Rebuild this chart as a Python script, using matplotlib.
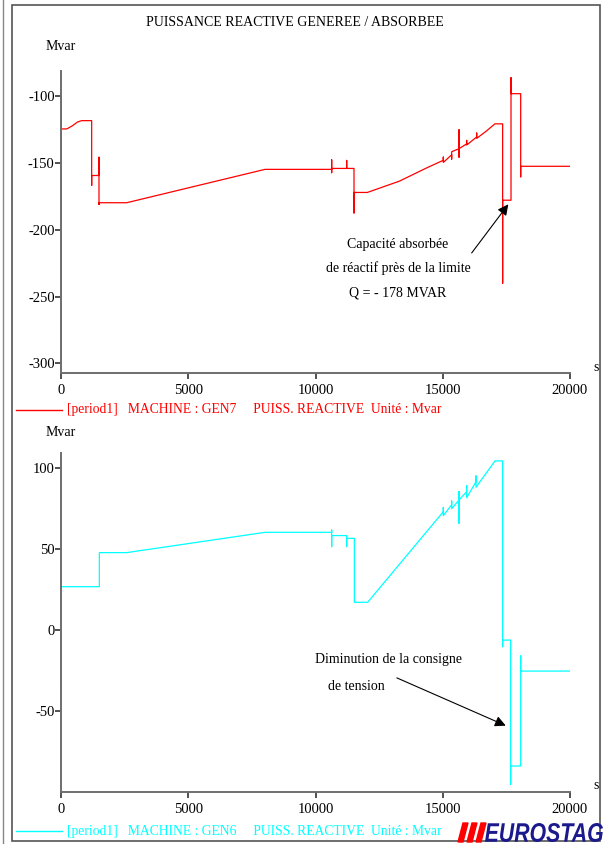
import matplotlib
matplotlib.use('Agg')
import matplotlib.pyplot as plt
from matplotlib.patches import Rectangle, Polygon, PathPatch
from matplotlib.lines import Line2D
from matplotlib.textpath import TextPath
from matplotlib.font_manager import FontProperties
from matplotlib.transforms import Affine2D

plt.rcParams['font.family'] = ['Liberation Serif', 'DejaVu Serif']

# GEN7 - puissance reactive (Mvar), temps en s
t_gen7 = [0, 0, 0, 230, 450, 650, 812, 1205, 1205, 1205, 1205, 1493, 1493, 1493, 1493,
          2580, 8016, 10635, 10635, 10635, 10635, 11225, 11225, 11225, 11513, 11513, 11513,
          12036, 13300, 14368, 15022, 15022, 15022, 15350, 15350, 15350, 15639, 15639, 15639,
          15639, 15940, 15940, 15940, 16333, 16333, 16333, 16700, 17050, 17353, 17353, 17353,
          17643, 17682, 17682, 17682, 18062, 18062, 18062, 18062, 20000]
q_gen7 = [-305, -100, -124.4, -124.4, -122, -119.2, -118.2, -118.2, -166.7, -159.3, -159.3, -159.3,
          -145.6, -181, -179.7, -179.7, -154.7, -154.7, -147.5, -157.2, -154.0, -154.0, -148, -154.0,
          -154.0, -187.4, -172.0, -172.0, -163.5, -153.6, -147.9, -145.5, -149.5, -143.8, -147,
          -141.5, -139.2, -125, -145.6, -139.2, -135.6, -133, -136.5, -130.4, -127.5, -131.5, -126.2,
          -120.6, -120.6, -240, -177.8, -177.8, -177.8, -86, -98.0, -98.0, -152.4, -160.3, -152.4,
          -152.4]

# GEN6 - puissance reactive (Mvar)
t_gen6 = [0, 0, 1507, 1507, 2580, 8016, 10635, 10635, 10635, 10635, 11225, 11225, 11225,
          11526, 11526, 11526, 12050, 15022, 15022, 15022, 15350, 15350, 15350, 15639, 15639,
          15639, 15639, 15940, 15940, 15940, 16307, 16307, 16307, 17053, 17353, 17353, 17353,
          17668, 17668, 17668, 18062, 18062, 18062, 20000]
q_gen6 = [-32.9, 26.7, 26.7, 47.7, 47.7, 60.2, 60.2, 61.6, 51.4, 58.2, 58.2, 51.4, 56.5,
          56.5, 28.8, 17.1, 17.1, 72.9, 75.5, 70.5, 77.2, 79.5, 74.8, 80.1, 85.3, 65.8, 80.1,
          85.3, 89, 81.5, 91.4, 95, 88, 104.2, 104.2, -10.3, -6.2, -6.2, -95, -83.8, -83.8,
          -16.0, -25.3, -25.3]

x_ticks = [0, 5000, 10000, 15000, 20000]
y_ticks_haut = [-100, -150, -200, -250, -300]
y_ticks_bas = [100, 50, 0, -50]

W, H = 604, 844
fig = plt.figure(figsize=(W / 100, H / 100), dpi=100)

def fx(px):
    return px / W

def fy(py):
    return 1 - py / H

axe_gris = '#6e6e6e'

def style_axe(ax):
    for s in ['top', 'right']:
        ax.spines[s].set_visible(False)
    for s in ['left', 'bottom']:
        ax.spines[s].set_color(axe_gris)
        ax.spines[s].set_linewidth(1.4)
    ax.tick_params(direction='out', length=4, width=1.2, color='#333333',
                   labelsize=10.5, pad=0.5)
    ax.set_xlim(0, 20000)
    ax.set_xticks(x_ticks)
    ax.set_xticklabels([str(v) for v in x_ticks])
    ax.tick_params(axis='x', pad=4)

# graphe du haut
ax1 = fig.add_axes([fx(61), fy(373.3), fx(570 - 61), (373.3 - 71) / H])
ax1.plot(t_gen7, q_gen7, color='#ff0000', linewidth=0.9)
style_axe(ax1)
ax1.set_ylim(-307.5, -81)
ax1.set_yticks(y_ticks_haut)
ax1.set_yticklabels([str(v) for v in y_ticks_haut])
ax1.annotate('', xy=(17642, -179.2), xytext=(16071, -219),
             arrowprops=dict(arrowstyle='-|>', color='black', lw=0.8, mutation_scale=16))
ax1.text(13242, -210.8, 'Capacité absorbée', ha='center', va='center', fontsize=10)
ax1.text(13242, -228.8, 'de réactif près de la limite', ha='center', va='center', fontsize=10)
ax1.text(13242, -247.5, 'Q = - 178 MVAR', ha='center', va='center', fontsize=10)

# graphe du bas
ax2 = fig.add_axes([fx(61), fy(792.3), fx(570 - 61), (792.3 - 453.3) / H])
ax2.plot(t_gen6, q_gen6, color='#00ffff', linewidth=0.9)
style_axe(ax2)
ax2.set_ylim(-100, 108.9)
ax2.set_yticks(y_ticks_bas)
ax2.set_yticklabels([str(v) for v in y_ticks_bas])
ax2.annotate('', xy=(17575, -59.6), xytext=(13096, -28.8),
             arrowprops=dict(arrowstyle='-|>', color='black', lw=0.8, mutation_scale=16))
ax2.text(12849, -17.9, 'Diminution de la consigne', ha='center', va='center', fontsize=10)
ax2.text(11591, -35, 'de tension', ha='center', va='center', fontsize=10)

# textes de la figure
fig.text(fx(295), fy(22), 'PUISSANCE REACTIVE GENEREE / ABSORBEE', ha='center', va='center', fontsize=10)
fig.text(fx(61), fy(46), 'Mvar', ha='center', va='center', fontsize=10)
fig.text(fx(61), fy(433), 'Mvar', ha='center', va='center', fontsize=10)
fig.text(fx(596), fy(374), 's', ha='center', va='bottom', fontsize=10)
fig.text(fx(596), fy(792), 's', ha='center', va='bottom', fontsize=10)

# legendes
fig.add_artist(Line2D([fx(16), fx(62)], [fy(410), fy(410)], color='#ff0000', lw=1))
fig.text(fx(67), fy(410), '[period1]   MACHINE : GEN7     PUISS. REACTIVE  Unité : Mvar',
         color='#ff0000', ha='left', va='center', fontsize=9.8)
fig.add_artist(Line2D([fx(16), fx(62)], [fy(831), fy(831)], color='#00ffff', lw=1))
fig.text(fx(67), fy(831), '[period1]   MACHINE : GEN6     PUISS. REACTIVE  Unité : Mvar',
         color='#00ffff', ha='left', va='center', fontsize=9.8)

# cadre
fig.add_artist(Rectangle((fx(11.5), fy(841)), fx(600 - 11.5), (841 - 5) / H,
                         fill=False, edgecolor='#555555', lw=1.2))
fig.add_artist(Line2D([fx(2.5), fx(2.5)], [fy(0), fy(844)], color='#888888', lw=1))

# logo EUROSTAG
for i in range(3):
    x0 = 458 + i * 9
    fig.add_artist(Polygon([(fx(x0), fy(842)), (fx(x0 + 5), fy(842)),
                            (fx(x0 + 10), fy(823)), (fx(x0 + 5), fy(823))],
                           closed=True, color='#ff0000'))
tp = TextPath((0, 0), 'EUROSTAG', size=1,
              prop=FontProperties(family='Liberation Sans', weight='bold', style='italic'))
ext = tp.get_extents()
sx = (603 - 485) / ext.width
sy = (842 - 823) / ext.height
tr = Affine2D().translate(-ext.x0, -ext.y0).scale(sx / W, sy / H).translate(fx(485), fy(842))
fig.add_artist(PathPatch(tp, transform=tr + fig.transFigure, color='#1a1a8c', lw=0))

fig.savefig('out.png', dpi=100)
